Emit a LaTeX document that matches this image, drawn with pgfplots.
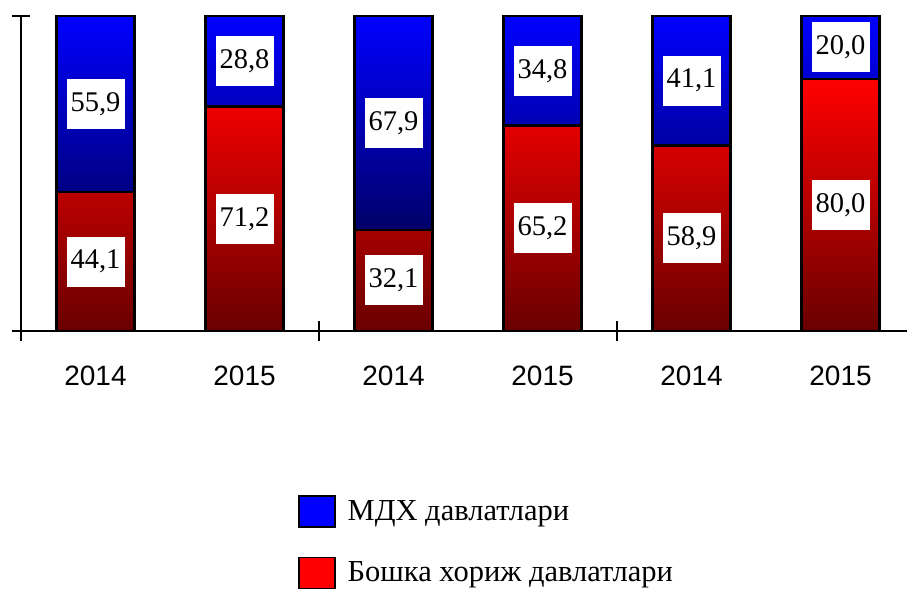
\documentclass[border=0pt]{standalone}
\usepackage{fontspec}
\setmainfont{Liberation Serif}
\newfontfamily\arialfont{Liberation Sans}
\usepackage{pgfplots}
\pgfplotsset{compat=1.18}
\definecolor{myblue}{RGB}{0,0,255}
\definecolor{mydarkblue}{RGB}{0,0,105}
\definecolor{myred}{RGB}{255,0,0}
\definecolor{mydarkred}{RGB}{105,0,0}
\begin{document}
\begin{tikzpicture}
\useasboundingbox (0,0) rectangle (907pt,589pt);
\begin{axis}[
  at={(21pt,258pt)}, anchor=south west,
  width=886pt, height=315pt, scale only axis,
  ybar stacked, bar width=78pt,
  xmin=-0.5, xmax=5.446, ymin=0, ymax=100,
  enlargelimits=false,
  axis lines*=left,
  axis line style={line width=2pt, black},
  xtick={0,...,5},
  xticklabels={2014,2015,2014,2015,2014,2015},
  major x tick style={draw=none},
  minor xtick={-0.5,1.5,3.5},
  minor x tick style={line width=2pt, black},
  ytick={0,100}, yticklabels={},
  y tick style={line width=2pt, black},
  tick align=center,
  major tick length=18pt, minor tick length=20pt,
  xticklabel style={font=\arialfont\fontsize{28}{28}\selectfont, yshift=-22pt},
  nodes near coords,
  point meta=explicit symbolic,
  every node near coord/.append style={
    anchor=center,
    fill=white, draw=none, inner sep=0pt,
    minimum width=58pt, minimum height=50pt,
    font=\fontsize{28.5}{28.5}\selectfont},
  legend style={at={(axis description cs:0.3126,-0.52)}, anchor=north west,
    draw=none, fill=none, inner sep=0pt, row sep=29pt,
    font=\fontsize{30.5}{30.5}\selectfont,
    nodes={inner xsep=12pt}},
  legend cell align=left,
]
\addplot[forget plot, draw=black, line width=2.5pt, top color=myred, bottom color=mydarkred]
  coordinates {(0,44.1)[44,1] (1,71.2)[71,2] (2,32.1)[32,1] (3,65.2)[65,2] (4,58.9)[58,9] (5,80.0)[80,0]};
\addplot[forget plot, draw=black, line width=2.5pt, top color=myblue, bottom color=mydarkblue]
  coordinates {(0,55.9)[55,9] (1,28.8)[28,8] (2,67.9)[67,9] (3,34.8)[34,8] (4,41.1)[41,1] (5,20.0)[20,0]};
\addlegendimage{legend image code/.code={\draw[fill=myblue,draw=black,line width=1.5pt] (0pt,-15.5pt) rectangle (36pt,15.5pt);}}
\addlegendentry{МДХ давлатлари}
\addlegendimage{legend image code/.code={\draw[fill=myred,draw=black,line width=1.5pt] (0pt,-15.5pt) rectangle (36pt,15.5pt);}}
\addlegendentry{Бошка хориж давлатлари}
\end{axis}
\end{tikzpicture}
\end{document}
